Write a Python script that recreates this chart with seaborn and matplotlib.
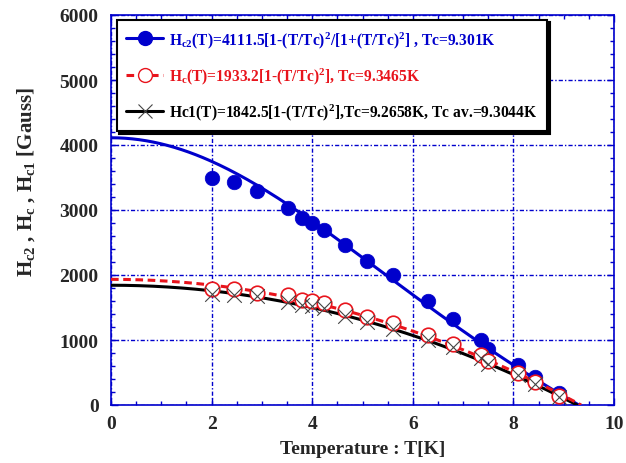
import numpy as np
import pandas as pd
import matplotlib
matplotlib.use("Agg")
import matplotlib.pyplot as plt
from matplotlib.lines import Line2D
from matplotlib.ticker import MultipleLocator
import seaborn as sns

# measured temperatures [K]
temperature = [2.01, 2.45, 2.91, 3.51, 3.79, 4.00, 4.24, 4.66, 5.08, 5.61,
               6.30, 6.80, 7.35, 7.49, 8.09, 8.42, 8.90]
# upper critical field Hc2 [Gauss]
hc2_points = [3490, 3430, 3300, 3030, 2880, 2800, 2700, 2460, 2210, 2000,
              1600, 1330, 1000, 860, 615, 435, 180]
# thermodynamic critical field Hc [Gauss]
hc_points = [1785, 1785, 1730, 1690, 1620, 1600, 1570, 1460, 1360, 1260,
             1070, 940, 770, 680, 490, 350, 140]
# lower critical field Hc1 [Gauss]
hc1_points = [1710, 1700, 1670, 1580, 1540, 1530, 1490, 1370, 1270, 1170,
              1000, 890, 720, 630, 460, 330, 130]

# fit parameters from the legend
hc2_fit = (4111.5, 9.301)
hc_fit = (1933.2, 9.3465)
hc1_fit = (1842.5, 9.2658)

legend_labels = [
    r"$H_{c2}$(T)=4111.5[1-(T/Tc)$^2$/[1+(T/Tc)$^2$] , Tc=9.301K",
    r"$H_c$(T)=1933.2[1-(T/Tc)$^2$], Tc=9.3465K",
    r"Hc1(T)=1842.5[1-(T/Tc)$^2$],Tc=9.2658K, Tc av.=9.3044K",
]

BLUE = "#0000cc"
RED = "#e8141c"

sns.set_style("ticks")
plt.rcParams["font.family"] = ["Liberation Serif", "DejaVu Serif"]
plt.rcParams["font.weight"] = "bold"
plt.rcParams["mathtext.fontset"] = "custom"
plt.rcParams["mathtext.rm"] = "Liberation Serif:bold"
plt.rcParams["mathtext.it"] = "Liberation Serif:bold"
plt.rcParams["mathtext.bf"] = "Liberation Serif:bold"


def curve_df(params, two_fluid=False):
    h0, tc = params
    t = np.linspace(0, tc, 200)
    r = (t / tc) ** 2
    h = h0 * (1 - r) / (1 + r) if two_fluid else h0 * (1 - r)
    return pd.DataFrame({"T": t, "H": h})


points = pd.DataFrame({"T": temperature, "hc2": hc2_points,
                       "hc": hc_points, "hc1": hc1_points})

fig, ax = plt.subplots(figsize=(6.26, 4.64), dpi=100)
fig.subplots_adjust(left=111 / 626, right=614 / 626, bottom=1 - 406 / 464, top=1 - 16 / 464)

ax.grid(True, which="major", color=BLUE, linestyle=(0, (3, 1.5, 1, 1.5)), linewidth=1.0)

sns.scatterplot(data=points, x="T", y="hc2", ax=ax, s=110, color=BLUE,
                edgecolor=BLUE, linewidth=0.5, zorder=3)
sns.lineplot(data=curve_df(hc2_fit, two_fluid=True), x="T", y="H", ax=ax,
             color=BLUE, linewidth=2.2, sort=False, estimator=None, zorder=4)
sns.lineplot(data=curve_df(hc1_fit), x="T", y="H", ax=ax,
             color="black", linewidth=2.2, sort=False, estimator=None, zorder=4)
sns.lineplot(data=curve_df(hc_fit), x="T", y="H", ax=ax, color=RED,
             linewidth=2.2, linestyle=(0, (2.5, 1.5)), sort=False, estimator=None, zorder=5)
sns.scatterplot(data=points, x="T", y="hc", ax=ax, s=110, facecolor="white",
                edgecolor=RED, linewidth=1.2, zorder=6)
sns.scatterplot(data=points, x="T", y="hc1", ax=ax, s=110, marker="x",
                color="#444444", linewidth=0.8, zorder=7)

ax.set_xlim(0, 10)
ax.set_ylim(0, 6000)
ax.xaxis.set_major_locator(MultipleLocator(2))
ax.xaxis.set_minor_locator(MultipleLocator(0.5))
ax.yaxis.set_major_locator(MultipleLocator(1000))
ax.yaxis.set_minor_locator(MultipleLocator(200))
ax.tick_params(which="both", direction="in", top=True, right=True, color=BLUE,
               labelsize=14)
ax.tick_params(which="major", length=5, width=1)
ax.tick_params(which="minor", length=3, width=1)
ax.tick_params(axis="x", pad=7)
ax.tick_params(axis="y", pad=9)
for sp in ax.spines.values():
    sp.set_color(BLUE)
    sp.set_linewidth(1.2)

ax.set_xlabel("Temperature : T[K]", fontsize=14, fontweight="bold", labelpad=6)
ax.set_ylabel(r"$H_{c2}$ , $H_c$ , $H_{c1}$ [Gauss]", fontsize=15, fontweight="bold")
ax.yaxis.set_label_coords(-0.148, 0.574)

handles = [
    Line2D([], [], color=BLUE, linewidth=2.2, marker="o", markersize=10,
           markerfacecolor=BLUE, markeredgecolor=BLUE),
    Line2D([], [], color=RED, linewidth=2.2, linestyle=(0, (2.5, 1.5)), marker="o",
           markersize=10, markerfacecolor="white", markeredgecolor=RED),
    Line2D([], [], color="black", linewidth=2.2, marker="x", markersize=10,
           markeredgecolor="#444444", markeredgewidth=0.8),
]
leg = ax.legend(handles, legend_labels, loc="upper left", bbox_to_anchor=(0.011, 0.988),
                borderaxespad=0, fontsize=11.2, frameon=True, fancybox=False,
                shadow={"color": "black", "alpha": 1},
                handlelength=2.4, labelspacing=1.0, borderpad=0.6, handletextpad=0.4)
leg.get_frame().set_edgecolor("black")
leg.get_frame().set_linewidth(1.5)
for txt, col in zip(leg.get_texts(), [BLUE, RED, "black"]):
    txt.set_color(col)
    txt.set_fontweight("bold")

fig.savefig("out.png", dpi=100)
